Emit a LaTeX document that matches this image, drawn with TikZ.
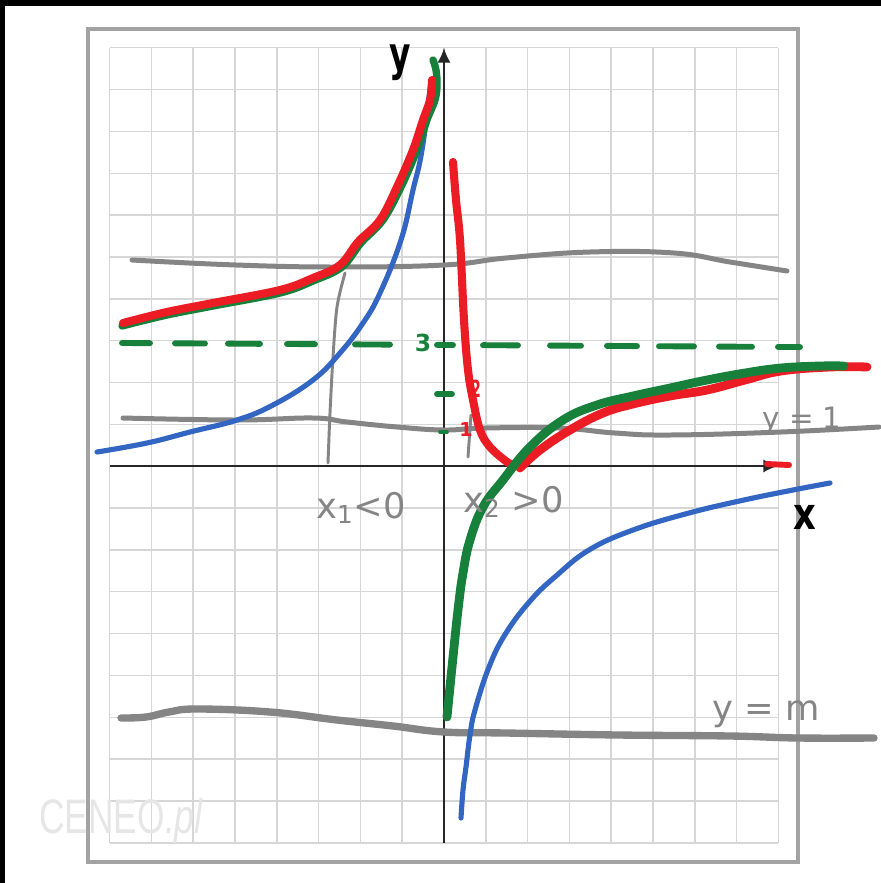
\documentclass[tikz,border=0pt]{standalone}
\usepackage{fontspec}
\setmainfont{DejaVu Sans}
\newfontfamily\markfont{Liberation Sans}
\usepackage{tikz}
\usetikzlibrary{arrows.meta}
\definecolor{plotred}{HTML}{EC1C24}
\definecolor{plotgreen}{HTML}{17803A}
\definecolor{plotblue}{HTML}{3366C2}
\definecolor{pengray}{HTML}{858585}
\definecolor{gridgray}{HTML}{D6D6D6}
\definecolor{framegray}{HTML}{A3A3A3}
\definecolor{markgray}{HTML}{E6E6E6}
\tikzset{
  gridline/.style={draw=gridgray, line width=1pt},
  framebox/.style={draw=framegray, line width=2.2pt},
  axisline/.style={draw=black!85, line width=1.4pt, -{Latex[length=10pt,width=9pt]}},
  handline/.style={draw=pengray, line width=3.4pt, line cap=round, line join=round},
  thinmark/.style={draw=pengray, line width=2pt, line cap=round},
  bluecurve/.style={draw=plotblue, line width=3.5pt, line cap=round, line join=round},
  greencurve/.style={draw=plotgreen, line width=5pt, line cap=round, line join=round},
  redcurve/.style={draw=plotred, line width=5.5pt, line cap=round, line join=round},
  greendash/.style={draw=plotgreen, line width=4pt, line cap=round},
  penlabel/.style={text=pengray, inner sep=0pt, font=\fontsize{24}{28}\selectfont},
  axislabel/.style={text=black, inner sep=0pt, font=\fontsize{32}{36}\selectfont\bfseries},
  digit/.style={inner sep=0pt, font=\fontsize{16}{18}\selectfont\bfseries},
  watermark/.style={text=markgray, inner sep=0pt, xscale=0.73, font=\fontsize{33}{36}\selectfont\markfont},
}
\begin{document}
\begin{tikzpicture}[x=0.02392cm, y=-0.02392cm]
  \useasboundingbox (0,0) rectangle (881,883);
  \fill[white] (0,0) rectangle (881,883);
  \fill[black] (0,0) rectangle (881,6);
  \fill[black] (0,0) rectangle (5,883);
  % grid paper
  \foreach \i in {0,...,16}
    \draw[gridline] ({109.6+41.8*\i},47.7) -- ({109.6+41.8*\i},843);
  \foreach \j in {0,...,19}
    \draw[gridline] (109.6,{47.7+41.85*\j}) -- (778.4,{47.7+41.85*\j});
  \draw[framebox] (88,29) rectangle (798,862);
  \node[watermark, anchor=base west] (ceneo) at (39,833) {CENEO\textit{.pl}};
  % axes
  \coordinate (xstart) at (109.6,466);
  \coordinate (xend) at (778,466);
  \coordinate (ybot) at (444,843);
  \coordinate (ytop) at (444,48);
  \draw[axisline] (xstart) -- (xend);
  \draw[axisline] (ybot) -- (ytop);
  \node[axislabel, xscale=0.7] (ylab) at (400,63) {y};
  \node[axislabel, xscale=0.8, font=\fontsize{30}{34}\selectfont\bfseries] (xlab) at (805,517) {x};
  % hand drawn lines
  \draw[handline] plot[smooth, tension=0.7] coordinates {(132,260) (236,265) (337,267) (444,265) (506,258) (590,252) (674,253) (730,262) (787,271)};
  \draw[handline] plot[smooth, tension=0.7] coordinates {(123,418) (237,420) (313,418) (347,422) (397,427) (444,430) (485,428) (559,428) (615,433) (670,435) (781,432) (879,427)};
  \draw[handline, line width=5pt] plot[smooth, tension=0.7] coordinates {(121,718) (146,717) (169,712) (197,709) (270,712) (337,720) (393,726) (444,732) (506,733) (618,735) (730,736) (798,738) (874,738)};
  \draw[thinmark] plot[smooth] coordinates {(345,273) (337,307) (333,357) (330,413) (328,463)};
  \draw[thinmark] (471,415) -- (468,457);
  % asymptote y = 3
  \foreach \a/\b in {122/150, 175/205, 228/260, 287/315, 355/390, 437/453, 483/518, 550/581, 607/637, 659/694, 719/752, 778/800}
    \draw[greendash] (\a,{343+0.006*(\a-122)}) -- (\b,{343+0.006*(\b-122)});
  \draw[greendash] (437,394) -- (452,394);
  \draw[greendash, line width=2.5pt] (440,432) -- (447,432);
  % curves
  \draw[bluecurve] plot[smooth, tension=0.7] coordinates {(97,452) (147,443) (190,432) (237,420) (273,405) (313,380) (340,353) (363,323) (380,293) (401,240) (413,190) (422,150) (431,82)};
  \draw[bluecurve] plot[smooth, tension=0.7] coordinates {(461,818) (463,790) (466,767) (470,735) (475,710) (489,667) (506,633) (531,600) (556,576) (589,550) (633,530) (689,513) (744,500) (793,490) (830,483)};
  \draw[greencurve] plot[smooth, tension=0.6] coordinates {(122,326) (167,315) (213,306) (280,293) (313,281) (342,267) (361,243) (383,220) (401,187) (417,150) (427,120) (435,100) (437,85) (436,70) (433,60)};
  \draw[redcurve] plot[smooth, tension=0.6] coordinates {(123,323) (167,312) (213,303) (280,290) (313,278) (340,265) (358,242) (380,220) (397,187) (413,150) (423,120) (430,100) (432,80)};
  \draw[redcurve] plot[smooth, tension=0.6] coordinates {(453,162) (456,200) (460,240) (464,320) (468,370) (473,400) (480,430) (490,447) (507,462) (512,464)};
  \draw[redcurve, line width=6pt] plot[smooth, tension=0.7] coordinates {(520,468) (540,450) (570,430) (603,413) (633,404) (670,396) (707,390) (745,380) (781,371) (830,367) (867,367)};
  \draw[greencurve, line width=6pt] plot[smooth, tension=0.7] coordinates {(447,717) (452,667) (458,610) (463,573) (470,540) (483,507) (503,480) (530,447) (563,420) (597,405) (633,396) (670,388) (707,380) (745,373) (781,368) (820,366) (844,366)};
  \draw[redcurve, line width=4pt] (767,464) -- (789,465);
  % labels
  \node[digit, text=plotgreen] (three) at (423,343) {3};
  \node[digit, text=plotred, xscale=0.6] (two) at (476,389) {2};
  \node[digit, text=plotred, font=\fontsize{13}{15}\selectfont\bfseries] (one) at (466,430) {1};
  \node[penlabel, anchor=base west] (xone) at (316,518) {x\textsubscript{1}<0};
  \node[penlabel, anchor=base west] (xtwo) at (463,512) {x\textsubscript{2} >0};
  \node[penlabel, anchor=base west, font=\fontsize{20}{24}\selectfont] (yone) at (762,428) {y = 1};
  \node[penlabel, anchor=base west] (ym) at (712,720) {y = m};
\end{tikzpicture}
\end{document}
